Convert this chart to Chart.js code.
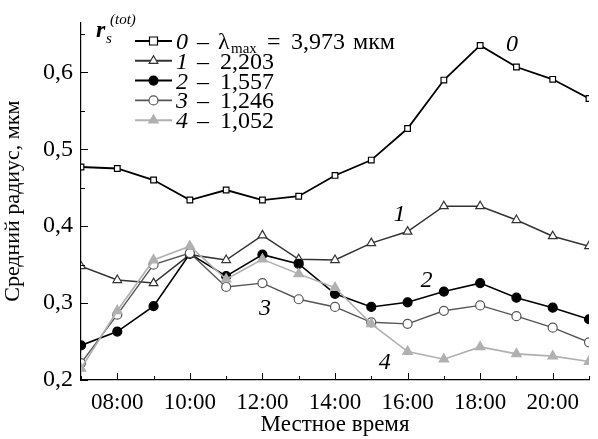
<!DOCTYPE html>
<html><head><meta charset="utf-8">
<script src="https://cdn.jsdelivr.net/npm/chart.js@4"></script>
<style>html,body{margin:0;padding:0;background:#fff}#wrap{width:598px;height:439px}</style>
</head><body><div id="wrap"><canvas id="c" width="598" height="439"></canvas></div>
<script>
const hours = [7,8,9,10,11,12,13,14,15,16,17,18,19,20,21];
const tickHours = [8,10,12,14,16,18,20];
const s0 = [0.477,0.475,0.460,0.434,0.447,0.434,0.439,0.466,0.486,0.527,0.590,0.635,0.607,0.591,0.566];
const s1 = [0.348,0.330,0.326,0.363,0.356,0.388,0.357,0.356,0.378,0.393,0.426,0.426,0.408,0.387,0.374];
const s2 = [0.245,0.263,0.296,0.364,0.335,0.363,0.351,0.312,0.295,0.301,0.315,0.326,0.307,0.294,0.279];
const s3 = [0.222,0.285,0.350,0.365,0.321,0.326,0.305,0.295,0.275,0.273,0.290,0.297,0.283,0.268,0.249];
const s4 = [0.215,0.290,0.356,0.374,0.331,0.357,0.338,0.320,0.273,0.237,0.227,0.243,0.234,0.231,0.224];
const seriesNames = ['0','1','2','3','4'];
const legendValues = ['3,973','2,203','1,557','1,246','1,052'];
const curveLabels = [['0',18.88,0.636],['1',15.78,0.415],['2',16.52,0.329],['3',12.07,0.293],['4',15.37,0.222]];

const styles = [
  {color:'#000', fill:'#fff', pt:'rect', r:4, w:1.8},
  {color:'#333', fill:'#fff', pt:'triangle', r:5, w:1.5},
  {color:'#000', fill:'#000', pt:'circle', r:4.5, w:1.6},
  {color:'#555', fill:'#fff', pt:'circle', r:4.5, w:1.4},
  {color:'#b0b0b0', fill:'#b0b0b0', pt:'triangle', r:5.5, w:1.6}
];
const allSeries = [s0,s1,s2,s3,s4];
const SERIF = '"Liberation Serif", "DejaVu Serif", serif';

function pts(arr){ return arr.map((v,i)=>({x:hours[i], y:v})); }

const datasets = allSeries.map((s,i)=>({
  label: seriesNames[i], data: pts(s),
  borderColor: styles[i].color, borderWidth: styles[i].w,
  pointStyle: styles[i].pt, pointRadius: styles[i].r,
  pointBackgroundColor: styles[i].fill, pointBorderColor: styles[i].color,
  pointBorderWidth: 1.2, tension: 0, order: i===0?10:(5-i)
}));

function drawMarker(ctx, st, x, y){
  ctx.save();
  ctx.fillStyle = st.fill; ctx.strokeStyle = st.color; ctx.lineWidth = 1.2;
  ctx.beginPath();
  if (st.pt==='rect'){ ctx.rect(x-st.r, y-st.r, st.r*2, st.r*2); }
  else if (st.pt==='circle'){ ctx.arc(x,y,st.r,0,Math.PI*2); }
  else { const r=st.r; ctx.moveTo(x, y-r); ctx.lineTo(x+r*0.866, y+r*0.5); ctx.lineTo(x-r*0.866, y+r*0.5); ctx.closePath(); }
  ctx.fill(); ctx.stroke(); ctx.restore();
}

const deco = {
  id:'deco',
  afterDraw(chart){
    const ctx = chart.ctx, xs = chart.scales.x, ys = chart.scales.y, a = chart.chartArea;
    ctx.save();
    ctx.strokeStyle = '#000'; ctx.lineWidth = 1;
    for (let h=7; h<=21; h++){
      const px = Math.round(xs.getPixelForValue(h))+0.5;
      const len = (h%2===0)?7:4;
      ctx.beginPath(); ctx.moveTo(px, a.bottom); ctx.lineTo(px, a.bottom-len); ctx.stroke();
    }
    for (let k=0; k<=9; k++){
      const v = 0.2 + k*0.05;
      if (v > ys.max) break;
      const py = Math.round(ys.getPixelForValue(v))+0.5;
      const len = (k%2===0)?7:4;
      ctx.beginPath(); ctx.moveTo(a.left, py); ctx.lineTo(a.left+len, py); ctx.stroke();
    }
    ctx.fillStyle = '#000';
    ctx.font = 'italic 24px ' + SERIF;
    ctx.textAlign = 'center'; ctx.textBaseline = 'middle';
    curveLabels.forEach(l=>{ ctx.fillText(l[0], xs.getPixelForValue(l[1]), ys.getPixelForValue(l[2])); });
    ctx.textAlign = 'left'; ctx.textBaseline = 'alphabetic';
    ctx.font = 'italic bold 24px ' + SERIF;
    ctx.fillText('r', 96, 37);
    ctx.font = 'italic 15px ' + SERIF;
    ctx.fillText('s', 106, 43);
    ctx.fillText('(tot)', 110, 24);
    for (let i=0;i<5;i++){
      const y = 41 + i*19.8;
      const st = styles[i];
      ctx.strokeStyle = st.color; ctx.lineWidth = st.w+0.4;
      ctx.beginPath(); ctx.moveTo(135, y); ctx.lineTo(172, y); ctx.stroke();
      drawMarker(ctx, st, 153.5, y);
      ctx.fillStyle = '#000';
      const base = y + 8;
      ctx.font = 'italic 24px ' + SERIF;
      ctx.fillText(seriesNames[i], 176, base);
      ctx.font = '24px ' + SERIF;
      ctx.fillText('\u2013', 197, base);
      if (i===0){
        ctx.fillText('\u03bb', 218, base);
        ctx.font = '15px ' + SERIF; ctx.fillText('max', 231, base+4);
        ctx.font = '24px ' + SERIF;
        ctx.fillText('=', 267, base);
        ctx.fillText(legendValues[0], 291, base);
        ctx.fillText('мкм', 353, base);
      } else {
        ctx.fillText(legendValues[i], 220, base);
      }
    }
    ctx.restore();
  }
};

new Chart(document.getElementById('c'), {
  type:'line',
  data:{datasets},
  options:{
    responsive:false, animation:false, devicePixelRatio:1,
    layout:{padding:{top:19, right:8, left:0, bottom:0}},
    plugins:{legend:{display:false}, tooltip:{enabled:false}},
    scales:{
      x:{type:'linear', min:7, max:21,
        grid:{display:false, drawTicks:false},
        border:{display:true, color:'#000', width:1.2},
        ticks:{stepSize:1, autoSkip:false, maxRotation:0, padding:9, color:'#000',
          font:{family:SERIF, size:23},
          callback:(v)=> tickHours.includes(v) ? String(v).padStart(2,'0')+':00' : ''},
        title:{display:true, text:'Местное время', color:'#000', font:{family:SERIF, size:23}, padding:{top:0,bottom:0}},
        afterFit(s){ s.height = 59; }
      },
      y:{min:0.2, max:0.665,
        grid:{display:false, drawTicks:false},
        border:{display:true, color:'#000', width:1.2},
        ticks:{stepSize:0.1, padding:8, color:'#000', font:{family:SERIF, size:24},
          callback:(v)=>{ const r=Math.round(v*10)/10; return Math.abs(v-r)<1e-6 ? r.toFixed(1).replace('.',',') : ''; }},
        title:{display:true, text:'Средний радиус, мкм', color:'#000', font:{family:SERIF, size:22}, padding:{top:0,bottom:2}},
        afterFit(s){ s.width = 81; }
      }
    }
  },
  plugins:[deco]
});
</script></body></html>
